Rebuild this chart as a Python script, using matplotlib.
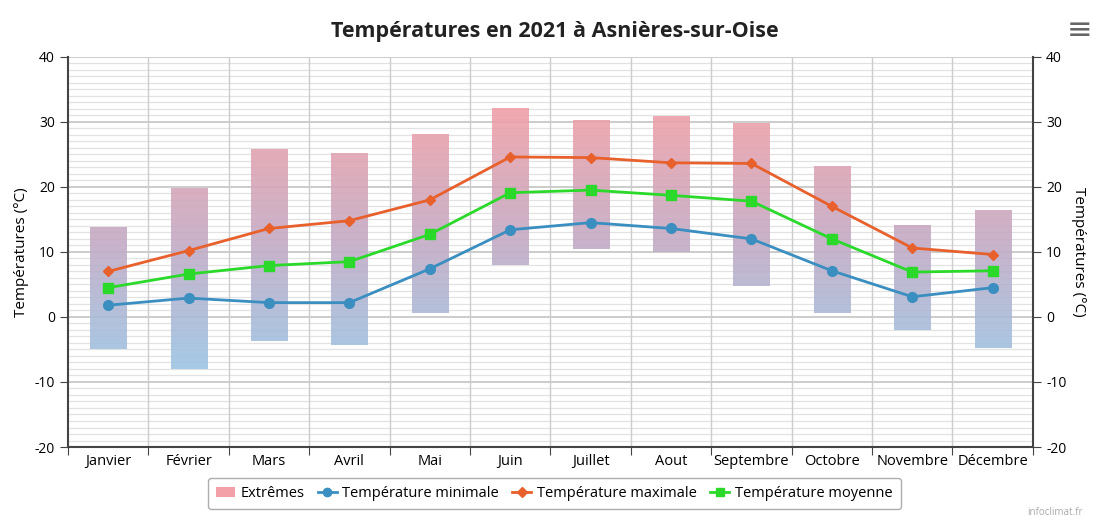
import matplotlib
matplotlib.use('Agg')
import matplotlib.pyplot as plt
import numpy as np
from matplotlib.colors import LinearSegmentedColormap, Normalize
from matplotlib.lines import Line2D
from matplotlib.patches import Patch

months = ['Janvier', 'Février', 'Mars', 'Avril', 'Mai', 'Juin', 'Juillet',
          'Aout', 'Septembre', 'Octobre', 'Novembre', 'Décembre']
ext_low = [-5.0, -8.0, -3.7, -4.3, 0.6, 8.0, 10.5, 10.0, 4.7, 0.6, -2.0, -4.8]
ext_high = [13.7, 19.8, 25.7, 25.1, 28.0, 32.1, 30.2, 30.8, 29.7, 23.1, 14.1, 16.4]
t_min = [1.8, 2.9, 2.2, 2.2, 7.4, 13.4, 14.5, 13.6, 12.0, 7.1, 3.1, 4.5]
t_max = [7.0, 10.2, 13.6, 14.8, 18.0, 24.6, 24.5, 23.7, 23.6, 17.0, 10.6, 9.6]
t_moy = [4.5, 6.6, 7.9, 8.5, 12.7, 19.1, 19.5, 18.7, 17.8, 12.0, 6.9, 7.1]

plt.rcParams['font.family'] = ['Open Sans', 'DejaVu Sans']
plt.rcParams['axes.unicode_minus'] = False

fig = plt.figure(figsize=(10.93, 5.21), dpi=100)
ax = fig.add_axes([0.0622, 0.142, 0.8828, 0.749])

x = np.arange(len(months))
ymin, ymax = -20, 40

# gradient bars for extremes (blue at cold end, red at warm end)
cmap = LinearSegmentedColormap.from_list('ext', ['#9cc4e4', '#c4aac4', '#f0a0a8'])
norm = Normalize(-8, 32)
w = 0.45
for i, lo, hi in zip(x, ext_low, ext_high):
    vals = np.linspace(hi, lo, 100).reshape(-1, 1)
    ax.imshow(vals, cmap=cmap, norm=norm, extent=[i - w / 2, i + w / 2, lo, hi],
              aspect='auto', alpha=0.9, zorder=2, interpolation='bilinear')

ax.plot(x, t_min, color='#3a8fc0', lw=2, marker='o', ms=7, zorder=4)
ax.plot(x, t_max, color='#e8602c', lw=2, marker='D', ms=5, zorder=4)
ax.plot(x, t_moy, color='#2bd92b', lw=2, marker='s', ms=7, zorder=4)

ax.set_xlim(-0.5, 11.5)
ax.set_ylim(ymin, ymax)

# grid
for v in range(ymin, ymax + 1):
    major = v % 10 == 0
    ax.axhline(v, color='#c4c4c4' if major else '#e2e2e2',
               lw=1.2 if major else 0.9, zorder=0)
for b in np.arange(0.5, 11.5, 1):
    ax.axvline(b, color='#cccccc', lw=1, zorder=0)

ax.set_xticks(np.arange(-0.5, 12, 1))
ax.set_xticklabels([])
ax.set_xticks(x, minor=True)
ax.set_xticklabels(months, minor=True, fontsize=10.5)
ax.tick_params(axis='x', which='major', length=6, color='#444444')
ax.tick_params(axis='x', which='minor', length=0, pad=5)

ax.set_yticks(range(ymin, ymax + 1, 10))
ax.tick_params(axis='y', length=6, color='#444444', labelsize=10)
ax.set_ylabel('Températures (°C)', fontsize=11)

for s in ['top', 'right']:
    ax.spines[s].set_visible(False)
ax.spines['left'].set_color('#444444')
ax.spines['left'].set_linewidth(1.5)
ax.spines['bottom'].set_color('#444444')
ax.spines['bottom'].set_linewidth(1.5)

ax2 = ax.twinx()
ax2.set_ylim(ymin, ymax)
ax2.set_yticks(range(ymin, ymax + 1, 10))
ax2.tick_params(axis='y', length=6, color='#444444', labelsize=10)
ax2.set_ylabel('Températures (°C)', fontsize=11, rotation=270, labelpad=14)
for s in ['top', 'left', 'bottom']:
    ax2.spines[s].set_visible(False)
ax2.spines['right'].set_color('#444444')
ax2.spines['right'].set_linewidth(1.5)

fig.text(0.508, 0.94, 'Températures en 2021 à Asnières-sur-Oise', ha='center',
         va='center', fontsize=15.5, fontweight='bold', color='#222222')
fig.text(0.988, 0.94, '≡', ha='center', va='center', fontsize=22, color='#666666')
fig.text(0.94, 0.005, 'infoclimat.fr', ha='left', va='bottom', fontsize=7, color='#aaaaaa')

handles = [
    Patch(facecolor='#f4a0a8', edgecolor='none'),
    Line2D([], [], color='#3a8fc0', lw=2, marker='o', ms=6),
    Line2D([], [], color='#e8602c', lw=2, marker='D', ms=5),
    Line2D([], [], color='#2bd92b', lw=2, marker='s', ms=6),
]
labels = ['Extrêmes', 'Température minimale', 'Température maximale', 'Température moyenne']
leg = fig.legend(handles, labels, loc='center', bbox_to_anchor=(0.507, 0.053), ncol=4,
                 fontsize=10.5, frameon=True, fancybox=True, handlelength=1.3,
                 handletextpad=0.4, columnspacing=0.9, borderpad=0.55)
leg.get_frame().set_edgecolor('#999999')
leg.get_frame().set_linewidth(1)

fig.savefig('out.png', dpi=100)
